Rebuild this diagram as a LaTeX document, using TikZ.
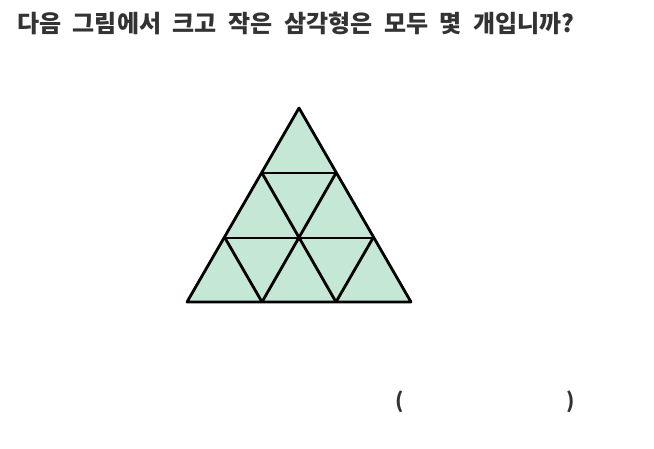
\documentclass[tikz,border=0pt]{standalone}
\usepackage{fontspec}
\newfontfamily\kofont{Noto Sans CJK KR}[WordSpace=2.1]
\definecolor{triFill}{HTML}{C5E7D5}
\definecolor{txtGray}{HTML}{333333}

\begin{document}
\begin{tikzpicture}[x=1pt,y=-1pt]
\useasboundingbox (0,0) rectangle (654,448);
\node[anchor=base west, inner sep=0pt, txtGray, font=\kofont\bfseries\fontsize{24}{29}\selectfont] (question) at (17,32) {다음 그림에서 크고 작은 삼각형은 모두 몇 개입니까?};

% grid points, rows from the top
\coordinate (a) at (299,108);
\coordinate (b1) at (262,173); \coordinate (b2) at (336,173);
\coordinate (c1) at (225,238); \coordinate (c2) at (299,238); \coordinate (c3) at (373,238);
\coordinate (d1) at (187,302); \coordinate (d2) at (262,302); \coordinate (d3) at (336,302); \coordinate (d4) at (411,302);

\fill[triFill] (a) -- (d1) -- (d4) -- cycle;
\begin{scope}[black, line width=2.8pt, line join=round]
\draw (a) -- (d1) -- (d4) -- cycle; % outline
\draw (b1) -- (b2) ; % rows
\draw (c1) -- (c3) ;
\draw (b1) -- (d3) ; % down right
\draw (c1) -- (d2) ;
\draw (b2) -- (d2) ; % down left
\draw (c3) -- (d3) ;
\end{scope}

\node[anchor=base, inner sep=0pt, txtGray, font=\kofont\bfseries\fontsize{21}{25}\selectfont] (lparen) at (400,408) {(};
\node[anchor=base, inner sep=0pt, txtGray, font=\kofont\bfseries\fontsize{21}{25}\selectfont] (rparen) at (571,408) {)};
\end{tikzpicture}
\end{document}
